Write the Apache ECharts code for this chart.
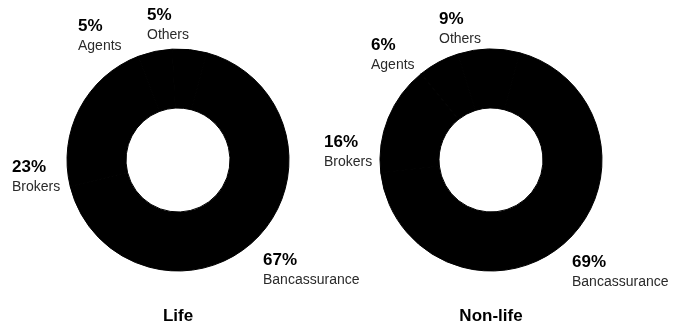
<!DOCTYPE html>
<html>
<head>
<meta charset="utf-8">
<script src="https://cdn.jsdelivr.net/npm/echarts@6/dist/echarts.min.js"></script>
<style>
  html, body { margin: 0; padding: 0; background: #fff; }
  #chart { width: 686px; height: 330px; }
</style>
</head>
<body>
<div id="chart"></div>
<script>
const channels = ['Bancassurance', 'Brokers', 'Agents', 'Others'];
const lifeShares = [67, 23, 5, 5];
const nonLifeShares = [69, 16, 6, 9];
const panelTitles = ['Life', 'Non-life'];

// label anchors (left edge, vertical middle) per panel, same order as channels
const labelSpots = [
    [[263, 270], [12, 177], [78, 36], [147, 25]],
    [[572, 272], [324, 152], [371, 55], [439, 29]]
];
const pieCenters = [[178, 160], [491, 160]];

const font = 'Liberation Sans, Arial, Helvetica, sans-serif';

function donut(shares, idx) {
    return {
        type: 'pie',
        center: pieCenters[idx],
        radius: [52, 111],
        startAngle: 75,
        silent: true,
        itemStyle: { color: '#000', borderColor: '#000', borderWidth: 1 },
        label: {
            show: true,
            position: 'outside',
            overflow: 'none',
            alignTo: 'none',
            formatter: '{p|{c}%}\n{n|{b}}',
            rich: {
                p: { fontFamily: font, fontSize: 17, fontWeight: 'bold', color: '#000', lineHeight: 21 },
                n: { fontFamily: font, fontSize: 14, color: '#2a2a2a', lineHeight: 19 }
            }
        },
        labelLine: { show: false },
        labelLayout: function (params) {
            const spot = labelSpots[idx][params.dataIndex];
            return { x: spot[0], y: spot[1], align: 'left', verticalAlign: 'middle' };
        },
        data: channels.map((name, i) => ({ name: name, value: shares[i] }))
    };
}

const chart = echarts.init(document.getElementById('chart'));
chart.setOption({
    animation: false,
    backgroundColor: '#fff',
    title: panelTitles.map((t, i) => ({
        text: t,
        left: pieCenters[i][0],
        top: 308,
        padding: 0,
        textAlign: 'center',
        textStyle: { fontFamily: font, fontSize: 17, fontWeight: 'bold', color: '#000' }
    })),
    series: [donut(lifeShares, 0), donut(nonLifeShares, 1)]
});
</script>
</body>
</html>
